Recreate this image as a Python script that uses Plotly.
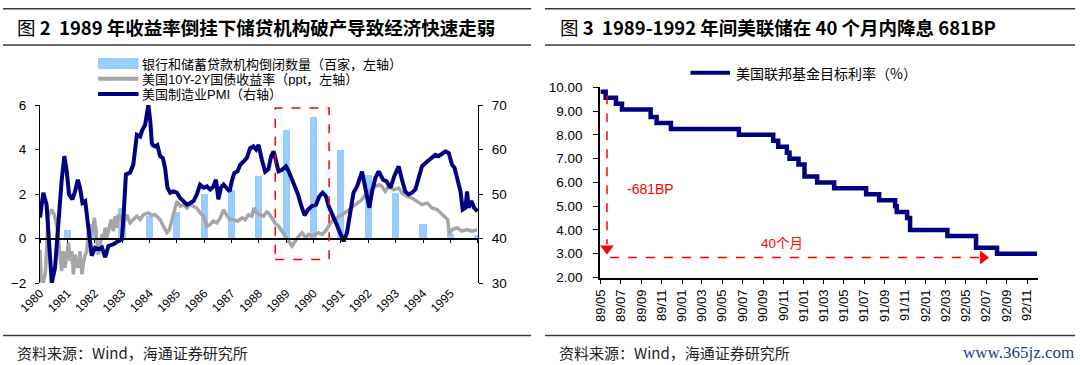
import plotly.graph_objects as go
import pandas as pd

W, H = 1080, 365

# ---------------- Left chart (图2) data ----------------
bar_years = list(range(1980, 1996))
bar_closures = [0.40, 0.55, 1.38, 1.00, 1.20, 2.00, 2.19, 2.79, 4.88, 5.48, 3.99, 2.87, 2.05, 0.66, 0.20, 0.15]

pmi_t = [1980.00, 1980.12, 1980.24, 1980.37, 1980.43, 1980.55, 1980.67, 1980.79, 1980.89, 1980.98,
         1981.06, 1981.18, 1981.28, 1981.38, 1981.46, 1981.55, 1981.65, 1981.71, 1981.79, 1981.89,
         1982.01, 1982.13, 1982.26, 1982.38, 1982.50, 1982.68, 1982.86, 1982.99,
         1983.05, 1983.14, 1983.29, 1983.41, 1983.54, 1983.66, 1983.74, 1983.84, 1983.96,
         1984.03, 1984.09, 1984.12, 1984.21, 1984.29, 1984.39, 1984.49, 1984.57, 1984.66, 1984.76, 1984.88,
         1985.00, 1985.12, 1985.24, 1985.37, 1985.49, 1985.61, 1985.73, 1985.85, 1985.98,
         1986.10, 1986.22, 1986.34, 1986.43, 1986.52, 1986.61, 1986.71, 1986.81, 1986.93,
         1987.01, 1987.10, 1987.22, 1987.32, 1987.44, 1987.56, 1987.68, 1987.80, 1987.90, 1987.99,
         1988.11, 1988.23, 1988.35, 1988.45, 1988.54, 1988.62, 1988.72, 1988.84, 1988.99,
         1989.09, 1989.21, 1989.33, 1989.43, 1989.55, 1989.67, 1989.80, 1989.94,
         1990.09, 1990.21, 1990.33, 1990.45, 1990.55, 1990.67, 1990.79, 1990.94,
         1991.10, 1991.22, 1991.34, 1991.46, 1991.59, 1991.77, 1991.89,
         1992.04, 1992.14, 1992.26, 1992.38, 1992.48, 1992.54, 1992.66, 1992.81, 1992.95,
         1993.11, 1993.23, 1993.35, 1993.47, 1993.60, 1993.72, 1993.84, 1993.96,
         1994.15, 1994.33, 1994.45, 1994.57, 1994.70, 1994.82, 1994.94,
         1995.06, 1995.15, 1995.27, 1995.37, 1995.45, 1995.55, 1995.61, 1995.67, 1995.77, 1995.87, 1995.99]
pmi_v = [44.7, 50.3, 47.6, 33.5, 30.0, 33.5, 43.9, 52.9, 58.5, 55.0,
         49.9, 48.8, 50.6, 53.2, 51.4, 48.0, 48.4, 45.4, 40.9, 36.1,
         37.9, 37.6, 38.0, 35.8, 38.3, 38.7, 39.4, 39.8,
         44.7, 54.4, 54.8, 56.6, 63.3, 62.9, 64.4, 65.5, 70.0,
         66.5, 61.4, 61.0, 60.7, 61.0, 58.5, 58.1, 55.9, 51.4, 50.3, 50.6,
         50.3, 49.1, 48.4, 47.6, 48.0, 48.4, 49.9, 52.1, 51.4,
         51.7, 51.0, 51.7, 53.2, 48.8, 51.4, 52.1, 51.4, 50.6,
         52.9, 54.7, 55.1, 56.6, 57.3, 58.1, 60.3, 60.7, 60.0, 61.0,
         57.7, 55.0, 55.6, 58.5, 59.6, 57.7, 55.1, 55.4, 56.2,
         55.1, 53.2, 51.7, 49.9, 47.3, 45.2, 46.5, 47.3,
         47.6, 49.5, 50.3, 49.5, 47.3, 45.8, 43.9, 41.7,
         39.4, 41.3, 45.4, 50.3, 51.7, 55.0, 51.4,
         46.9, 50.6, 53.6, 55.1, 54.0, 53.2, 52.9, 51.4, 54.0,
         56.2, 53.2, 50.6, 49.9, 50.3, 51.0, 53.6, 56.2,
         57.3, 58.1, 58.8, 58.5, 59.2, 59.6, 59.2,
         56.6, 55.9, 52.9, 50.6, 46.5, 46.9, 50.6, 46.9, 48.4, 46.9, 46.1]

spread_t = [1980.00, 1980.05, 1980.12, 1980.20, 1980.30, 1980.43, 1980.52, 1980.61, 1980.67, 1980.73,
            1980.79, 1980.85, 1980.91, 1980.98, 1981.04, 1981.10, 1981.16, 1981.22, 1981.28, 1981.34,
            1981.40, 1981.46, 1981.53, 1981.58, 1981.65, 1981.71, 1981.77, 1981.83, 1981.89, 1981.99,
            1982.07, 1982.13, 1982.20, 1982.26, 1982.32, 1982.38, 1982.44, 1982.50, 1982.60, 1982.68,
            1982.74, 1982.80, 1982.86, 1982.96, 1983.05, 1983.17, 1983.29, 1983.41, 1983.54, 1983.66,
            1983.78, 1983.96, 1984.08, 1984.21, 1984.39, 1984.51, 1984.64, 1984.73, 1984.82, 1984.94,
            1985.00, 1985.12, 1985.24, 1985.37, 1985.49, 1985.61, 1985.73, 1985.85, 1985.98,
            1986.10, 1986.22, 1986.34, 1986.46, 1986.59, 1986.71, 1986.81, 1986.93,
            1987.07, 1987.22, 1987.38, 1987.50, 1987.62, 1987.74, 1987.82, 1987.92,
            1988.05, 1988.17, 1988.29, 1988.35, 1988.47, 1988.59, 1988.72, 1988.84, 1988.96,
            1989.09, 1989.21, 1989.33, 1989.45, 1989.58, 1989.70, 1989.82, 1989.94,
            1990.06, 1990.18, 1990.31, 1990.43, 1990.55, 1990.67, 1990.79, 1990.91,
            1991.06, 1991.22, 1991.38, 1991.52, 1991.65, 1991.77, 1991.89,
            1992.01, 1992.14, 1992.26, 1992.38, 1992.50, 1992.62, 1992.74, 1992.93,
            1993.11, 1993.23, 1993.42, 1993.60, 1993.78, 1993.96,
            1994.15, 1994.33, 1994.51, 1994.70, 1994.82, 1994.90, 1994.96,
            1995.06, 1995.24, 1995.42, 1995.61, 1995.79, 1995.98]
spread_v = [-0.50, -1.90, -2.00, -1.50, 1.00, 1.30, 1.07, 0.63, 0.03, -0.57,
            -1.46, -0.57, -1.31, -0.72, -0.19, -1.01, -0.57, -1.61, -0.72, -1.16,
            -1.31, -0.57, -1.61, -1.16, -0.72, -0.57, 0.33, 0.63, 0.18, 0.93,
            -0.12, -0.72, -0.27, 0.18, 0.03, 0.48, 0.03, 0.33, 0.85, 0.33,
            1.00, 0.48, 1.07, 0.93, 0.63, 1.07, 0.70, 0.85, 1.00, 0.85,
            1.07, 1.15, 1.05, 1.07, 0.85, 0.55, 0.26, 0.40, 0.78, 1.30,
            1.67, 1.45, 1.52, 1.37, 1.52, 1.45, 1.37, 1.15, 1.00,
            0.55, 0.63, 0.78, 0.70, 0.93, 1.30, 1.07, 0.85,
            0.85, 0.78, 0.93, 0.85, 1.07, 1.00, 1.37, 1.15,
            1.07, 1.00, 1.20, 1.15, 0.93, 0.70, 0.55, 0.33, 0.10,
            -0.12, -0.34, -0.12, 0.10, 0.26, 0.03, 0.18, 0.10,
            0.18, 0.26, 0.18, 0.33, 0.55, 0.78, 0.85, 1.00,
            1.07, 1.22, 1.37, 1.52, 1.67, 1.75, 1.97,
            2.12, 2.27, 2.34, 2.42, 2.34, 2.12, 2.34, 2.19,
            2.27, 2.05, 1.89, 1.82, 1.67, 1.52,
            1.60, 1.37, 1.30, 1.07, 0.93, 0.85, 0.18,
            0.40, 0.48, 0.33, 0.40, 0.33, 0.40]

year_labels = list(range(1980, 1996))
year_ticks_zero = list(range(1980, 1997))

# ---------------- Right chart (图3) data ----------------
ffr_dates = ["1989-05-01", "1989-05-16", "1989-06-16", "1989-07-04", "1989-09-28", "1989-10-16",
             "1989-11-28", "1990-06-20", "1990-10-01", "1990-10-16", "1990-11-11", "1990-11-19",
             "1990-12-16", "1991-01-03", "1991-02-10", "1991-04-02", "1991-07-07", "1991-08-15",
             "1991-10-02", "1991-10-07", "1991-11-07", "1991-11-16", "1992-03-07", "1992-06-01",
             "1992-08-03", "1992-12-01"]
ffr_rates = [9.8125, 9.5625, 9.3125, 9.0625, 8.75, 8.50,
             8.25, 8.00, 7.75, 7.50, 7.25, 7.00,
             6.75, 6.25, 6.00, 5.75, 5.50, 5.25,
             5.00, 4.75, 4.50, 4.00, 3.75, 3.25,
             3.00, 3.00]

NAVY = "#000080"
GRAY = "#A6A6A6"
BLUE = "#99CCFF"
RED = "#FF0000"
FONT = "Liberation Sans, Arial, Noto Sans CJK SC"
CJK = "Noto Sans CJK SC, Liberation Sans"


def dec_to_date(t):
    y = int(t + 1e-9)
    return pd.Timestamp(year=y, month=1, day=1) + pd.Timedelta(days=(t - y) * 365.25)


pmi_x = [dec_to_date(t) for t in pmi_t]
spread_x = [dec_to_date(t) for t in spread_t]
bar_x = [f"{y}-12-31" for y in bar_years]

fig = go.Figure()

fig.add_trace(go.Bar(x=bar_x, y=bar_closures, marker_color=BLUE, marker_line_width=0,
                     width=95 * 86400000, xaxis="x", yaxis="y", showlegend=False))
fig.add_trace(go.Scatter(x=spread_x, y=spread_v, mode="lines", line=dict(color=GRAY, width=3.5),
                         xaxis="x", yaxis="y", showlegend=False))
fig.add_trace(go.Scatter(x=pmi_x, y=pmi_v, mode="lines", line=dict(color=NAVY, width=4),
                         xaxis="x", yaxis="y2", showlegend=False))
# dummy trace to activate zero-line axis
fig.add_trace(go.Scatter(x=[None], y=[None], xaxis="x2", yaxis="y", showlegend=False))

fig.add_trace(go.Scatter(x=ffr_dates, y=ffr_rates, mode="lines", line_shape="hv",
                         line=dict(color=NAVY, width=4.5), xaxis="x3", yaxis="y3", showlegend=False))
# arrowheads
fig.add_trace(go.Scatter(x=["1989-05-20"], y=[3.22], mode="markers",
                         marker=dict(symbol="triangle-down", size=12, color=RED),
                         xaxis="x3", yaxis="y3", showlegend=False))
fig.add_trace(go.Scatter(x=["1992-06-22"], y=[2.84], mode="markers",
                         marker=dict(symbol="triangle-right", size=12, color=RED),
                         xaxis="x3", yaxis="y3", showlegend=False))

def px_x(p):
    return p / W

def px_y(p):
    return (H - p) / H

left_dom_x = [px_x(40), px_x(478)]
left_dom_y = [px_y(283), px_y(105)]
right_dom_x = [px_x(600), px_x(1038)]
right_dom_y = [px_y(277.5), px_y(87.3)]
xrange_left = ["1980-01-01", "1996-01-05"]

axis_common = dict(showgrid=False, zeroline=False, linecolor="black", tickcolor="black", automargin=False,
                   tickfont=dict(family=FONT, size=13.5, color="#000000"))

fig.update_layout(
    width=W, height=H, margin=dict(l=0, r=0, t=0, b=0, pad=0, autoexpand=False),
    paper_bgcolor="white", plot_bgcolor="rgba(0,0,0,0)",
    font=dict(family=FONT, color="#000000"),
    bargap=0,
    xaxis=dict(domain=left_dom_x, anchor="y", type="date", range=xrange_left,
               tickvals=[f"{y}-01-01" for y in year_labels], ticktext=[str(y) for y in year_labels],
               tickangle=-45, showline=False, ticks="", showgrid=False, zeroline=False, automargin=False,
               tickfont=dict(family=FONT, size=12, color="#000000")),
    xaxis2=dict(overlaying="x", anchor="free", position=left_dom_y[0] + 0.25 * (left_dom_y[1] - left_dom_y[0]),
                type="date", range=xrange_left, tickvals=[f"{y}-01-01" for y in year_ticks_zero],
                showticklabels=False, ticks="outside", ticklen=4, tickcolor="black", tickwidth=1,
                showline=True, linecolor="black", linewidth=1.5, showgrid=False, zeroline=False,
                automargin=False),
    yaxis=dict(domain=left_dom_y, anchor="x", range=[-2, 6], dtick=2, showline=True, linewidth=1,
               ticks="outside", ticklen=4, ticklabelstandoff=6, **axis_common),
    yaxis2=dict(overlaying="y", side="right", anchor="x", range=[30, 70], dtick=10, showline=True,
                linewidth=1, ticks="outside", ticklen=4, ticklabelstandoff=6, **axis_common),
    xaxis3=dict(domain=right_dom_x, anchor="y3", type="date", range=["1989-04-29", "1992-12-04"],
                tick0="1989-05-01", dtick="M2", tickformat="%y/%m", tickangle=-90,
                showline=True, linewidth=1.5, ticks="outside", ticklen=5, **axis_common),
    yaxis3=dict(domain=right_dom_y, anchor="x3", range=[2, 10], dtick=1, tickformat=".2f",
                showline=True, linewidth=1.5, ticks="outside", ticklen=5, ticklabelstandoff=8, **axis_common),
)
fig.layout.xaxis3.tickfont.size = 13

shapes = []
ann = []

# title rules and source rules
for x0, x1 in [(3, 531), (545, 1075)]:
    for yy in [8.7, 45, 335.5]:
        shapes.append(dict(type="line", xref="paper", yref="paper", x0=px_x(x0), x1=px_x(x1),
                           y0=px_y(yy), y1=px_y(yy), line=dict(color="#3A3A3A", width=1.5)))

ann.append(dict(text="图 <b>2  1989 年收益率倒挂下储贷机构破产导致经济快速走弱</b>", x=px_x(15), y=px_y(27),
                xref="paper", yref="paper", xanchor="left", yanchor="middle", showarrow=False,
                font=dict(family=CJK, size=18.5, color="#000000")))
ann.append(dict(text="图 <b>3  1989-1992 年间美联储在 40 个月内降息 681BP</b>", x=px_x(558), y=px_y(27),
                xref="paper", yref="paper", xanchor="left", yanchor="middle", showarrow=False,
                font=dict(family=CJK, size=18.5, color="#000000")))
for xs in [15, 557]:
    ann.append(dict(text="资料来源：Wind，海通证券研究所", x=px_x(xs), y=px_y(352.5),
                    xref="paper", yref="paper", xanchor="left", yanchor="middle", showarrow=False,
                    font=dict(family=CJK, size=15, color="#222222")))
ann.append(dict(text="www.365jz.com", x=px_x(1076), y=px_y(352.5), xref="paper", yref="paper",
                xanchor="right", yanchor="middle", showarrow=False,
                font=dict(family="Liberation Serif, DejaVu Serif", size=17, color="#1F3A8A")))

# left legend
shapes.append(dict(type="rect", xref="paper", yref="paper", x0=px_x(98), x1=px_x(138.5),
                   y0=px_y(69), y1=px_y(58), fillcolor=BLUE, line=dict(width=0)))
shapes.append(dict(type="line", xref="paper", yref="paper", x0=px_x(98), x1=px_x(138.5),
                   y0=px_y(78.8), y1=px_y(78.8), line=dict(color=GRAY, width=4)))
shapes.append(dict(type="line", xref="paper", yref="paper", x0=px_x(98), x1=px_x(138.5),
                   y0=px_y(94), y1=px_y(94), line=dict(color=NAVY, width=4)))
for txt, yy in [("银行和储蓄贷款机构倒闭数量（百家，左轴）", 63.5),
                ("美国10Y-2Y国债收益率（ppt，左轴）", 78.8),
                ("美国制造业PMI（右轴）", 94.1)]:
    ann.append(dict(text=txt, x=px_x(140), y=px_y(yy), xref="paper", yref="paper",
                    xanchor="left", yanchor="middle", showarrow=False, height=14,
                    font=dict(family=FONT, size=13, color="#000000")))

# right legend
shapes.append(dict(type="line", xref="paper", yref="paper", x0=px_x(690.5), x1=px_x(730),
                   y0=px_y(72.7), y1=px_y(72.7), line=dict(color=NAVY, width=4)))
ann.append(dict(text="美国联邦基金目标利率（%）", x=px_x(734), y=px_y(72.7), xref="paper", yref="paper",
                xanchor="left", yanchor="middle", showarrow=False,
                font=dict(family=CJK, size=14, color="#000000")))

# red dashed box on left chart
shapes.append(dict(type="rect", xref="x", yref="y", x0="1988-08-07", x1="1990-07-27", y0=-0.94, y1=5.87,
                   line=dict(color=RED, width=1.5, dash="dash"), fillcolor="rgba(0,0,0,0)"))

# right chart dashed arrows
shapes.append(dict(type="line", xref="x3", yref="y3", x0="1989-05-20", x1="1989-05-20", y0=9.67, y1=3.4,
                   line=dict(color=RED, width=1.5, dash="dash")))
shapes.append(dict(type="line", xref="x3", yref="y3", x0="1989-05-29", x1="1992-06-16", y0=2.84, y1=2.84,
                   line=dict(color=RED, width=1.5, dash="dash")))
ann.append(dict(text="-681BP", x="1989-09-27", y=5.73, xref="x3", yref="y3", showarrow=False,
                font=dict(family=FONT, size=14, color=RED)))
ann.append(dict(text="40个月", x="1990-10-28", y=3.45, xref="x3", yref="y3", showarrow=False,
                font=dict(family=FONT, size=13.5, color=RED)))

fig.update_layout(shapes=shapes, annotations=ann)

fig.write_html("out.html", config={"displayModeBar": False},
               post_script="document.body.style.margin='0px';document.body.style.overflow='hidden';")
